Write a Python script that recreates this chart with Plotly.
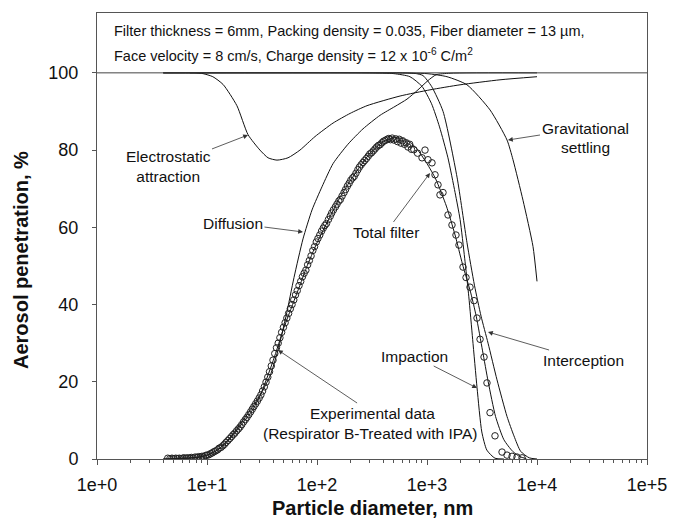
import plotly.graph_objects as go

# ---------------- data ----------------
exp_x = [4.4, 4.6, 4.8, 5.0, 5.2, 5.4, 5.6, 5.8, 6.0, 6.2, 6.5, 6.7, 7.0, 7.2, 7.5, 7.8, 8.1, 8.4, 8.7, 9.0,
         9.3, 9.7, 10.0, 10.4, 10.8, 11.2, 11.6, 12.0, 12.5, 12.9, 13.4, 13.9, 14.4, 14.9, 15.5, 16.1, 16.7,
         17.3, 17.9, 18.6, 19.3, 20.0, 20.7, 21.5, 22.3, 23.1, 24.0, 24.9, 25.8, 26.7, 27.7, 28.7, 29.8,
         30.9, 32.0, 33.2, 34.4, 35.7, 37.0, 38.4, 39.8, 41.3, 42.8, 44.4, 46.0, 47.7, 49.5, 51.3, 53.2,
         55.2, 57.2, 59.3, 61.5, 63.8, 66.1, 68.6, 71.1, 73.7, 76.4, 79.2, 82.2, 85.2, 88.3, 91.6, 95.0,
         98.5, 102, 106, 110, 114, 118, 122, 127, 132, 136, 141, 147, 152, 158, 163, 169, 176, 182, 189,
         196, 203, 211, 218, 226, 235, 243, 252, 262, 271, 281, 292, 302, 313, 325, 337, 349, 362, 375,
         389, 403, 418, 434, 450, 466, 483, 501, 520, 539, 559, 580, 601, 624, 647, 671, 696, 722, 760,
         820, 901, 959, 1021, 1110, 1183, 1259, 1312, 1398, 1552, 1687, 1834, 1953, 2125, 2263, 2460,
         2675, 2850, 3035, 3300, 3510, 3740, 4150, 4810, 5340, 5930, 6580, 7310]
exp_y = [0.2, 0.1, 0.2, 0.1, 0.2, 0.1, 0.2, 0.1, 0.2, 0.3, 0.2, 0.3, 0.2, 0.4, 0.3, 0.5, 0.4, 0.6, 0.5, 0.7,
         0.6, 0.9, 1.0, 1.1, 1.4, 1.6, 1.9, 2.1, 2.4, 2.8, 3.0, 3.4, 3.8, 4.3, 4.8, 5.3, 5.8,
         6.3, 6.7, 7.3, 7.8, 8.3, 8.9, 9.6, 10.2, 10.8, 11.5, 12.2, 12.9, 13.6, 14.3, 15.0, 15.8,
         16.6, 17.6, 18.7, 19.9, 21.2, 22.6, 24.1, 25.6, 27.3, 28.8, 30.0, 31.4, 32.8, 34.1, 35.3, 36.5,
         37.7, 38.9, 40.0, 41.2, 42.5, 43.6, 44.9, 46.0, 47.2, 48.1, 48.9, 50.3, 51.4, 52.6, 54.0, 55.0,
         56.2, 57.1, 58.0, 59.0, 59.8, 60.5, 61.0, 62.0, 62.9, 63.7, 64.5, 65.3, 66.0, 66.8, 67.2, 68.1,
         69.0, 69.8, 70.7, 71.4, 72.2, 72.8, 73.2, 74.0, 74.9, 75.6, 76.2, 76.8, 77.3, 77.8, 78.4, 79.0,
         79.3, 79.8, 80.3, 80.8, 81.2, 81.4, 81.9, 82.3, 82.5, 82.8, 83.0, 82.7, 83.1, 82.6, 82.9, 82.2,
         82.8, 81.8, 82.4, 81.5, 81.9, 80.8, 81.5, 80.2, 80.1, 79.2, 78.0, 80.0, 77.5, 76.7, 73.6, 71.0,
         68.4, 69.0, 63.2, 60.6, 58.0, 55.4, 49.7, 47.0, 44.5, 41.0, 36.5, 31.0, 26.4, 19.7, 12.0, 6.0,
         1.8, 1.0, 0.7, 0.5, 0.3]

total_x = [4, 6, 8, 10, 12, 15, 20, 25, 30, 40, 50, 60, 70, 80, 100, 130, 160, 200, 250, 300, 400, 500,
           600, 700, 800, 1000, 1200, 1500, 1800, 2100, 2500, 2800, 3200, 3600, 4200, 5000, 6000, 7000, 8000]
total_y = [0, 0.1, 0.4, 1.0, 2.0, 4.3, 8.5, 12.0, 16.0, 25.5, 34, 40, 45, 49.5, 56, 62.5, 67.5, 72, 76,
           79, 82.2, 83.2, 83, 82, 80.5, 76.5, 72.5, 65.5, 58, 50.5, 43, 37, 28, 20, 11, 5, 2, 0.6, 0.1]

diff_x = [4, 6, 8.6, 10.6, 13.1, 16.2, 20, 24.6, 30.3, 37.4, 44, 52.3, 61.8, 74.6, 90.1, 111, 140, 191,
          262, 374, 512, 658, 828, 1021, 1208, 1620, 10000]
diff_y = [0, 0.2, 0.5, 1.2, 2.8, 5.5, 9, 12.5, 16.5, 21.5, 28, 37, 47, 57, 64.5, 70.5, 76.5, 81.5,
          85.5, 89, 91.3, 93.2, 95.6, 98, 99.5, 99.9, 100]

elec_x = [7, 7.78, 9.2, 11.3, 14.0, 18.7, 23.6, 30.3, 35.9, 43.3, 54.5, 70.0, 95.9, 140, 200, 285, 569,
          1065, 1995, 4610, 10000]
elec_y = [100, 100, 99.8, 99, 97, 91.5, 84, 80, 78, 77.4, 78, 80, 83.5, 87, 89.5, 91.5, 94, 95.6, 96.9,
          98.2, 99]

grav_x = [4, 500, 1000, 1520, 2310, 3740, 5340, 6050, 7460, 9200, 10000]
grav_y = [100, 100, 99.8, 99, 96.9, 90.4, 82.6, 77.5, 67, 55, 46]

imp_x = [4, 300, 500, 700, 900, 1100, 1300, 1550, 1800, 2000, 2200, 2400, 2600, 2850, 3150, 3500, 4150, 5000]
imp_y = [100, 100, 99.8, 99, 96.5, 92, 86, 78, 69, 62, 52, 42, 31, 18.5, 7, 2.3, 0.2, 0]

int_x = [4, 300, 600, 800, 920, 1100, 1400, 1875, 2310, 2700, 3100, 3590, 4330, 5340, 6170, 7100, 8500, 10000]
int_y = [100, 100, 100, 99.8, 99.3, 96.5, 90, 73, 56, 45, 37, 30, 20.5, 11, 6, 2, 0.3, 0]

x_tick_vals = [1, 10, 100, 1000, 10000, 100000]
x_tick_text = ["1e+0", "1e+1", "1e+2", "1e+3", "1e+4", "1e+5"]
y_tick_vals = [0, 20, 40, 60, 80, 100]

# ---------------- figure ----------------
W, H = 675, 524
L, R, T, B = 97, 28, 13, 65
PW, PH = W - L - R, H - T - B
Y_MAX = 115.5


def px2x(px):
    """pixel -> log10(x) (annotation coordinates on the log axis)"""
    return (px - L) / PW * 5.0


def py2y(py):
    return (T + PH - py) / PH * Y_MAX


def pxp(px):
    return (px - L) / PW


def pyp(py):
    return (T + PH - py) / PH


FONT = "Arial, Liberation Sans, sans-serif"
fig = go.Figure()

line_style = dict(color="#111111", width=1, shape="spline", smoothing=0.6)
for xs, ys in [(elec_x, elec_y), (diff_x, diff_y), (grav_x, grav_y), (imp_x, imp_y),
               (int_x, int_y), (total_x, total_y)]:
    fig.add_trace(go.Scatter(x=xs, y=ys, mode="lines", line=line_style,
                             hoverinfo="skip", showlegend=False))

fig.add_trace(go.Scatter(x=exp_x, y=exp_y, mode="markers", showlegend=False,
                         marker=dict(symbol="circle-open", size=6.5, color="#222222",
                                     line=dict(width=1, color="#222222"))))

# line at 100 %
fig.add_shape(type="line", xref="paper", yref="y", x0=0, x1=1, y0=100, y1=100,
              line=dict(color="#444444", width=1))

# header text
HF = dict(family=FONT, size=14.5, color="#111")
fig.add_annotation(xref="paper", yref="paper", x=pxp(112), y=pyp(31),
                   xanchor="left", yanchor="middle", showarrow=False, font=HF,
                   text="Filter thickness = 6mm, Packing density = 0.035, Fiber diameter = 13 \u00b5m,")
fig.add_annotation(xref="paper", yref="paper", x=pxp(112), y=pyp(55),
                   xanchor="left", yanchor="middle", showarrow=False, font=HF,
                   text="Face velocity = 8 cm/s, Charge density = 12 x 10<sup>-6</sup> C/m<sup>2</sup>")

LF = dict(family=FONT, size=15.5, color="#111")
# labels with arrows: (text, label centre px, arrow tip px)
arrow_labels = [
    ("Electrostatic<br>attraction", (168, 166), (248, 135)),
    ("Diffusion", (233, 223), (303, 232)),
    ("Total filter", (386, 232), (430, 173)),
    ("Gravitational", (585, 128), (508, 140)),
    ("Impaction", (414, 356), (477, 388)),
    ("Interception", (583, 360), (488, 332)),
    ("Experimental data", (372, 413), (278, 350)),
]
for txt, (lx, ly), (hx, hy) in arrow_labels:
    fig.add_annotation(x=px2x(hx), y=py2y(hy), ax=px2x(lx), ay=py2y(ly),
                       xref="x", yref="y", axref="x", ayref="y", text=txt,
                       font=LF, align="center", showarrow=True, arrowhead=2,
                       arrowsize=1.2, arrowwidth=0.8, arrowcolor="#333333")

plain_labels = [
    ("settling", (585, 147)),
    ("(Respirator B-Treated with IPA)", (370, 433)),
]
for txt, (lx, ly) in plain_labels:
    fig.add_annotation(x=px2x(lx), y=py2y(ly), xref="x", yref="y", text=txt,
                       showarrow=False, font=LF, align="center")

# axis titles
fig.add_annotation(xref="paper", yref="paper", x=pxp(372), y=pyp(508), xanchor="center",
                   yanchor="middle", showarrow=False, text="<b>Particle diameter, nm</b>",
                   font=dict(family=FONT, size=20, color="#111"))
fig.add_annotation(xref="paper", yref="paper", x=pxp(21), y=pyp(260), xanchor="center",
                   yanchor="middle", showarrow=False, textangle=-90,
                   text="<b>Aerosol penetration, %</b>",
                   font=dict(family=FONT, size=20, color="#111"))

minor_vals = [m * 10 ** e for e in range(0, 5) for m in range(2, 10)]

fig.update_xaxes(type="log", range=[0, 5], tickvals=x_tick_vals, ticktext=x_tick_text,
                 ticks="outside", ticklen=5, tickcolor="#555", tickwidth=1,
                 showline=True, linecolor="#555", linewidth=1, mirror=True,
                 showgrid=False, zeroline=False, ticklabelstandoff=4,
                 tickfont=dict(family=FONT, size=18, color="#111"),
                 minor=dict(tickvals=minor_vals, ticks="outside", ticklen=3,
                            tickcolor="#555", showgrid=False))
fig.update_yaxes(range=[0, Y_MAX], tickvals=y_tick_vals,
                 ticks="outside", ticklen=4, tickcolor="#555", tickwidth=1,
                 showline=True, linecolor="#555", linewidth=1, mirror=True,
                 showgrid=False, zeroline=False, ticklabelstandoff=10,
                 tickfont=dict(family=FONT, size=18, color="#111"))

fig.update_layout(width=W, height=H, margin=dict(l=L, r=R, t=T, b=B, autoexpand=False),
                  plot_bgcolor="white", paper_bgcolor="white", showlegend=False)

fig.write_html("out.html")
